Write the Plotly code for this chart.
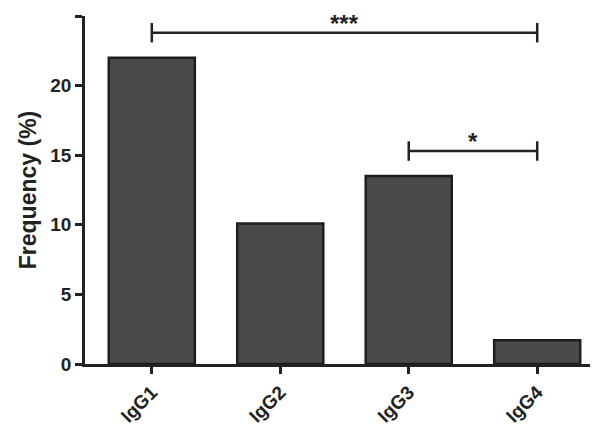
import plotly.graph_objects as go

categories = ["IgG1", "IgG2", "IgG3", "IgG4"]
values = [22.0, 10.1, 13.5, 1.7]
brackets = [(0, 3, 23.8, "***"), (2, 3, 15.3, "*")]

fig = go.Figure(go.Bar(x=list(range(4)), y=values, width=0.67,
                       marker=dict(color="#4a4a4a", line=dict(color="#1e1e1e", width=2.5))))
for a, b, y, t in brackets:
    fig.add_shape(type="line", x0=a, x1=b, y0=y, y1=y, line=dict(color="#222", width=2.5))
    for xx in (a, b):
        fig.add_shape(type="line", x0=xx, x1=xx, y0=y - 0.7, y1=y + 0.7, line=dict(color="#222", width=2.5))
    fig.add_annotation(x=(a + b) / 2, y=y, text="<b>" + t + "</b>", showarrow=False,
                       yanchor="bottom", yshift=-6, font=dict(size=24, color="#222"))

fig.update_layout(width=598, height=436, margin=dict(l=77, r=2, t=8, b=80, autoexpand=False),
                  plot_bgcolor="white", paper_bgcolor="white", showlegend=False,
                  font=dict(family="Liberation Sans, Arial", color="#222"))
fig.update_xaxes(range=[-0.52, 3.52], tickvals=list(range(4)), ticktext=["<b>%s</b>" % c for c in categories],
                 tickangle=-45, ticks="outside", ticklen=7, tickwidth=2.5, tickcolor="#222",
                 showline=True, linewidth=2.5, linecolor="#222", showgrid=False, zeroline=False,
                 tickfont=dict(size=19), automargin=False)
fig.update_yaxes(range=[0, 25], tickvals=[0, 5, 10, 15, 20, 25],
                 ticktext=["<b>%d</b>" % v for v in [0, 5, 10, 15, 20, 25]],
                 ticks="outside", ticklen=7, tickwidth=2.5, tickcolor="#222",
                 showline=True, linewidth=2.5, linecolor="#222", showgrid=False, zeroline=False,
                 tickfont=dict(size=19), automargin=False,
                 title=dict(text="<b>Frequency (%)</b>", font=dict(size=23), standoff=8))
fig.write_html("out.html")
